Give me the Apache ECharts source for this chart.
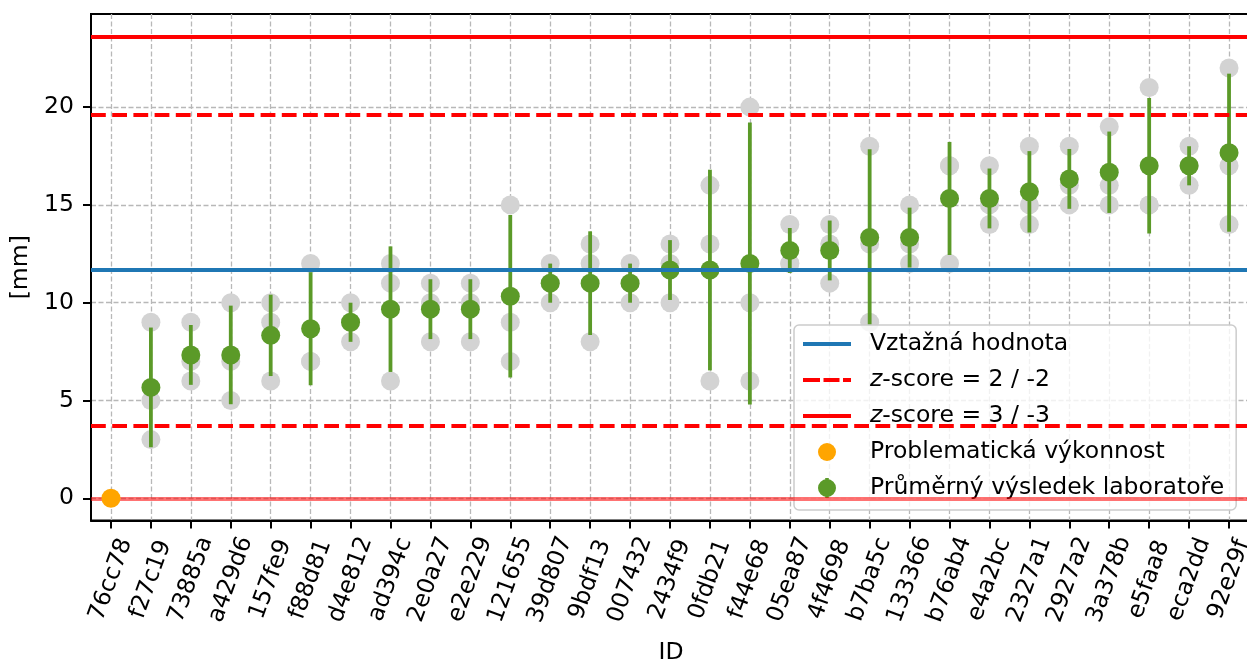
<!DOCTYPE html>
<html><head><meta charset="utf-8">
<script src="https://cdn.jsdelivr.net/npm/echarts@6/dist/echarts.min.js"></script>
<style>html,body{margin:0;padding:0;background:#fff}#c{width:1247px;height:663px}</style>
</head><body><div id="c"></div>
<script>
// ---- data ----
const labIds = ['76cc78','f27c19','73885a','a429d6','157fe9','f88d81','d4e812','ad394c','2e0a27','e2e229',
  '121655','39d807','9bdf13','007432','2434f9','0fdb21','f44e68','05ea87','4f4698','b7ba5c',
  '133366','b76ab4','e4a2bc','2327a1','2927a2','3a378b','e5faa8','eca2dd','92e29f'];
// individual results of each laboratory (grey points)
const labResults = [[],[9,5,3],[9,7,6],[10,7,5],[10,9,6],[12,7,7],[10,9,8],[12,11,6],[11,10,8],[11,10,8],
  [15,9,7],[12,11,10],[13,12,8],[12,11,10],[13,12,10],[16,13,6],[20,10,6],[14,12,12],[14,13,11],[18,13,9],
  [15,13,12],[17,17,12],[17,15,14],[18,15,14],[18,16,15],[19,16,15],[21,15,15],[18,17,16],[22,17,14]];
// laboratory mean (green point) and error-bar half length
const labMeans = [null,5.67,7.33,7.33,8.33,8.67,9.00,9.67,9.67,9.67,
  10.33,11.00,11.00,11.00,11.67,11.67,12.00,12.67,12.67,13.33,
  13.33,15.33,15.33,15.67,16.33,16.67,17.00,17.00,17.67];
const labSds = [null,3.06,1.53,2.52,2.08,2.89,1.00,3.21,1.53,1.53,
  4.16,1.00,2.65,1.00,1.53,5.13,7.21,1.15,1.53,4.51,
  1.53,2.89,1.53,2.08,1.53,2.08,3.46,1.00,4.04];
const problematicIds = ['76cc78'];
const problematicValues = [0];
const referenceValue = 11.66;
const zScore2Limits = [19.61, 3.70];
const zScore3Limits = [23.6, 0];
const yTickValues = [0, 5, 10, 15, 20];

// ---- styling ----
const FONT = 'DejaVu Sans';
const FS = 23.5;
const GREEN = '#5b9a28', GREY = '#d3d3d3', ORANGE = '#ffa500', BLUE = '#1f77b4', RED = '#ff0000';
const gridLine = {show: true, lineStyle: {color: '#b8b8b8', type: [5, 2.5], width: 1.3}};
const xTickValues = labIds.map((_, i) => i);

const greyData = [];
labResults.forEach((arr, i) => arr.forEach(v => greyData.push([i, v])));
const meanData = [], errData = [];
labMeans.forEach((m, i) => {
  if (m == null) return;
  meanData.push([i, m]);
  errData.push([i, m - labSds[i], m + labSds[i]]);
});
const probData = problematicIds.map((id, k) => [labIds.indexOf(id), problematicValues[k]]);

const BOX = 'M0,0M62,20';
const iconLine = 'path://' + BOX + 'M0,8H48V12H0Z';
const iconDash = 'path://' + BOX + 'M0,8H17V12H0Z M20.5,8H36.5V12H20.5Z M40,8H48V12H40Z';
const iconDot = 'path://' + BOX + 'M15,10A9,9 0 1 1 33,10A9,9 0 1 1 15,10Z';
const iconErr = 'path://' + BOX + 'M15,10A9,9 0 1 1 33,10A9,9 0 1 1 15,10Z M22.2,0H25.8V2H22.2Z M22.2,18H25.8V20H22.2Z';

const chart = echarts.init(document.getElementById('c'), null, {renderer: 'canvas'});
chart.setOption({
  animation: false,
  textStyle: {fontFamily: FONT},
  grid: {left: 91, top: 14, width: 1160, height: 506.5, show: true, borderColor: '#000', borderWidth: 2,
    containLabel: false, outerBoundsMode: 'none'},
  xAxis: {
    type: 'value', min: -0.5, max: 28.55,
    name: 'ID', nameLocation: 'middle', nameGap: 120,
    nameTextStyle: {fontFamily: FONT, fontSize: FS, color: '#000'},
    axisLine: {show: true, onZero: false, lineStyle: {color: '#000', width: 2}},
    axisTick: {show: true, customValues: xTickValues, length: 8, lineStyle: {color: '#000', width: 2}},
    axisLabel: {customValues: xTickValues, formatter: v => labIds[Math.round(v)] || '', rotate: 70,
      align: 'center', verticalAlign: 'middle', margin: 59, fontFamily: FONT, fontSize: FS, color: '#000'},
    splitLine: gridLine
  },
  yAxis: {
    type: 'value', min: -1.135, max: 24.76,
    name: '[mm]', nameLocation: 'middle', nameGap: 58,
    nameTextStyle: {fontFamily: FONT, fontSize: FS, color: '#000'},
    axisLine: {show: true, onZero: false, lineStyle: {color: '#000', width: 2}},
    axisTick: {show: true, customValues: yTickValues, length: 8, lineStyle: {color: '#000', width: 2}},
    axisLabel: {customValues: yTickValues, margin: 17, fontFamily: FONT, fontSize: FS, color: '#000'},
    splitLine: gridLine
  },
  legend: {
    orient: 'vertical', left: 794, top: 325, padding: [7, 12, 10, 9],
    itemWidth: 62, itemHeight: 20, itemGap: 12, selectedMode: false,
    backgroundColor: 'rgba(255,255,255,0.8)', borderColor: '#cccccc', borderWidth: 1.5, borderRadius: 5,
    itemStyle: {borderWidth: 0},
    textStyle: {fontFamily: FONT, fontSize: FS, color: '#000',
      rich: {i: {fontFamily: FONT, fontSize: FS, fontStyle: 'italic', color: '#000'},
             n: {fontFamily: FONT, fontSize: FS, color: '#000'}}},
    formatter: name => name.indexOf('z-score') === 0 ? '{i|z}{n|' + name.slice(1) + '}' : name,
    data: [
      {name: 'Vztažná hodnota', icon: iconLine, itemStyle: {color: BLUE, borderWidth: 0}},
      {name: 'z-score = 2 / -2', icon: iconDash, itemStyle: {color: RED, borderWidth: 0}},
      {name: 'z-score = 3 / -3', icon: iconLine, itemStyle: {color: RED, borderWidth: 0}},
      {name: 'Problematická výkonnost', icon: iconDot, itemStyle: {color: ORANGE, borderWidth: 0}},
      {name: 'Průměrný výsledek laboratoře', icon: iconErr, itemStyle: {color: GREEN, borderWidth: 0}}
    ]
  },
  series: [
    {name: 'Vztažná hodnota', type: 'line', data: [], color: BLUE, z: 1,
      markLine: {silent: true, symbol: ['none', 'none'], label: {show: false},
        lineStyle: {color: BLUE, width: 4, type: 'solid'},
        data: [{yAxis: referenceValue}]}},
    {name: 'z-score = 2 / -2', type: 'line', data: [], color: RED, z: 1,
      markLine: {silent: true, symbol: ['none', 'none'], label: {show: false},
        lineStyle: {color: RED, width: 4, type: [14.8, 6.4]},
        data: zScore2Limits.map(v => ({yAxis: v}))}},
    {name: 'z-score = 3 / -3', type: 'line', data: [], color: RED, z: 1,
      markLine: {silent: true, symbol: ['none', 'none'], label: {show: false},
        lineStyle: {color: RED, width: 4, type: 'solid'},
        data: zScore3Limits.map(v => ({yAxis: v, lineStyle: v === 0 ? {opacity: 0.55} : {}}))}},
    {name: 'results', type: 'scatter', data: greyData, symbolSize: 19, z: 2,
      itemStyle: {color: GREY, opacity: 1}, silent: true},
    {name: 'errorbars', type: 'custom', data: errData, encode: {x: 0, y: [1, 2]}, silent: true, z: 3,
      renderItem: (params, api) => {
        const p1 = api.coord([api.value(0), api.value(1)]);
        const p2 = api.coord([api.value(0), api.value(2)]);
        return {type: 'line', shape: {x1: p1[0], y1: p1[1], x2: p2[0], y2: p2[1]},
          style: {stroke: GREEN, lineWidth: 3.8}};
      }},
    {name: 'Průměrný výsledek laboratoře', type: 'scatter', data: meanData, symbolSize: 19, z: 4,
      itemStyle: {color: GREEN, opacity: 1}, silent: true},
    {name: 'Problematická výkonnost', type: 'scatter', data: probData, symbolSize: 19, z: 5,
      itemStyle: {color: ORANGE, opacity: 1}, silent: true}
  ]
});
</script></body></html>
